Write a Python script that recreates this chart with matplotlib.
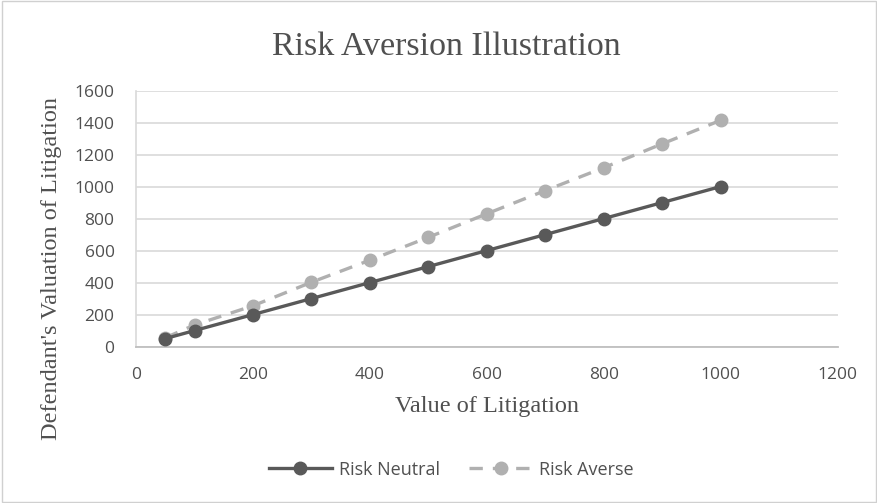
import matplotlib
matplotlib.use("Agg")
from matplotlib import pyplot as plt
from matplotlib.lines import Line2D
from matplotlib.patches import Rectangle

# values
litigation = [50, 100, 200, 300, 400, 500, 600, 700, 800, 900, 1000]
risk_neutral = [50, 100, 200, 300, 400, 500, 600, 700, 800, 900, 1000]
risk_averse = [55, 135, 255, 402, 540, 683, 830, 975, 1118, 1267, 1414]

x_ticks = [0, 200, 400, 600, 800, 1000, 1200]
y_ticks = [0, 200, 400, 600, 800, 1000, 1200, 1400, 1600]

dark = '#595959'
light = '#b0b0b0'
text_col = '#505050'
serif = 'Liberation Serif'
sans = 'Open Sans'

fig = plt.figure(figsize=(8.78, 5.03), dpi=100)
fig.patches.append(Rectangle((0.002, 0.002), 0.996, 0.996, transform=fig.transFigure,
                             fill=False, edgecolor='#d0d0d0', linewidth=1))
ax = fig.add_axes([0.155, 0.311, 0.799, 0.509])

ax.plot(litigation, risk_neutral, color=dark, linewidth=2.4, marker='o',
        markersize=9, label='Risk Neutral', zorder=3)
ax.plot(litigation, risk_averse, color=light, linewidth=2.4, marker='o',
        markersize=9, dashes=(4, 3), label='Risk Averse', zorder=2)

ax.set_xlim(0, 1200)
ax.set_ylim(0, 1600)
ax.set_xticks(x_ticks)
ax.set_yticks(y_ticks)
ax.grid(axis='y', color='#d9d9d9', linewidth=1.2)
ax.set_axisbelow(True)
for side in ['top', 'right']:
    ax.spines[side].set_visible(False)
ax.spines['left'].set_color('#d9d9d9')
ax.spines['left'].set_linewidth(1.2)
ax.spines['bottom'].set_color('#bfbfbf')
ax.spines['bottom'].set_linewidth(1.3)
ax.tick_params(length=0, labelsize=12.5, labelcolor=text_col)
ax.tick_params(axis='y', pad=15.5)
ax.tick_params(axis='x', pad=15)
for lab in ax.get_xticklabels() + ax.get_yticklabels():
    lab.set_fontfamily(sans)

fig.text(0.508, 0.891, 'Risk Aversion Illustration', ha='center', va='baseline',
         fontsize=24.5, family=serif, color=text_col)
fig.text(0.555, 0.191, 'Value of Litigation', ha='center', va='center',
         fontsize=17.5, family=serif, color=text_col)
fig.text(0.059, 0.467, "Defendant's Valuation of Litigation", ha='center', va='center',
         rotation=90, fontsize=17.5, family=serif, color=text_col)

handles = [Line2D([], [], color=dark, linewidth=2.4, marker='o', markersize=9),
           Line2D([], [], color=light, linewidth=2.4, marker='o', markersize=9, dashes=(4, 3))]
fig.legend(handles, ['Risk Neutral', 'Risk Averse'], loc='center', bbox_to_anchor=(0.514, 0.066),
           ncol=2, frameon=False, handlelength=3.5, handletextpad=0.4, columnspacing=1.6,
           prop={'family': sans, 'size': 13}, labelcolor=text_col)

fig.savefig('out.png', dpi=100)
